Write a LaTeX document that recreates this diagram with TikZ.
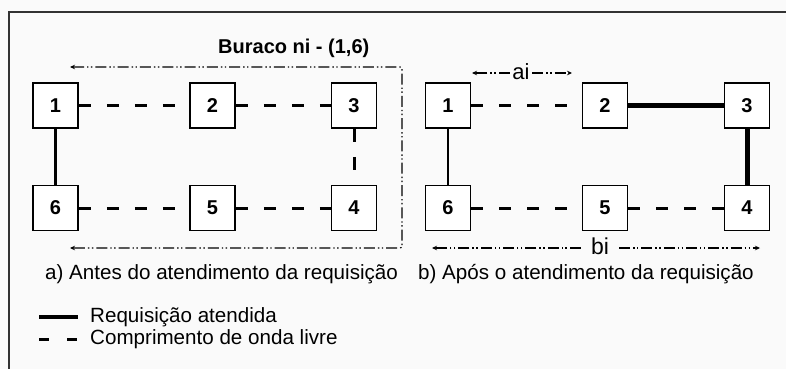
\documentclass[tikz,border=0pt]{standalone}
\usepackage{fontspec}
\setmainfont{Liberation Sans}
\usetikzlibrary{arrows.meta}
\definecolor{paper}{HTML}{FAFAFA}
\definecolor{framegray}{HTML}{333333}
\begin{document}
\begin{tikzpicture}[x=1pt,y=-1pt,
  station/.style={draw=black, line width=1.6pt, fill=white, minimum size=45pt,
    inner sep=0pt, font=\fontsize{20}{22}\selectfont\bfseries},
  freelink/.style={line width=3pt, dash pattern=on 12pt off 16pt},
  vfreelink/.style={line width=3pt, dash pattern=on 13pt off 15pt},
  usedlink/.style={line width=5pt},
  ringlink/.style={line width=2.4pt},
  spanline/.style={line width=1.2pt,
    dash pattern=on 11pt off 3pt on 1.4pt off 2.5pt on 1.4pt off 3pt},
  spantip/.style={-{Stealth[length=5pt,width=4.5pt]}},
  caption/.style={font=\fontsize{20.6}{23}\selectfont, anchor=west, inner sep=0pt},
  measure/.style={inner sep=0pt}
]
% canvas
\fill[paper] (0,0) rectangle (786,369);
\useasboundingbox (0,0) rectangle (786,369);
\draw[framegray, line width=1.8pt] (786,12) -- (9,12) -- (9,369);

% ---- a) ring before the request ----
\node[station] (a1) at (55.5,105.5) {1};
\node[station] (a2) at (212.5,105.5) {2};
\node[station] (a3) at (354,105.5) {3};
\node[station] (a4) at (354,208) {4};
\node[station] (a5) at (212.5,208) {5};
\node[station] (a6) at (55.5,208) {6};

\draw[freelink] (a1) -- (a2);
\draw[freelink] (a2) -- (a3);
\draw[vfreelink] (a3) -- (a4);
\draw[freelink] (a6) -- (a5);
\draw[freelink] (a5) -- (a4);
\draw[ringlink] (a1) -- (a6);

% hole ni between nodes 1 and 6
\node[font=\fontsize{20}{22}\selectfont\bfseries, anchor=west, inner sep=0pt]
  (title) at (218,48) {Buraco ni - (1,6)};
\coordinate (hs) at (70,67);
\coordinate (hc1) at (402,67);
\coordinate (hc2) at (402,248);
\coordinate (he) at (70,248);
\draw[spanline, {Stealth[length=5pt,width=4.5pt]}-{Stealth[length=5pt,width=4.5pt]}, rounded corners=2pt]
  (hs) -- (hc1) -- (hc2) -- (he);

% ---- b) ring after the request ----
\node[station] (b1) at (448,105.5) {1};
\node[station] (b2) at (605,105.5) {2};
\node[station] (b3) at (747,105.5) {3};
\node[station] (b4) at (747,208) {4};
\node[station] (b5) at (605,208) {5};
\node[station] (b6) at (448,208) {6};

\draw[freelink] (b1) -- (b2);
\draw[usedlink] (b2) -- (b3);
\draw[usedlink] (b3) -- (b4);
\draw[freelink] (b6) -- (b5);
\draw[freelink] (b5) -- (b4);
\draw[ringlink] (b1) -- (b6);

% spans ai and bi
\node[measure, font=\fontsize{22}{24}\selectfont, inner xsep=2.5pt] (ai) at (521,72) {ai};
\coordinate (aiL) at (472,73);
\coordinate (aiR) at (572,73);
\draw[spanline, spantip] (ai.west |- aiL) -- (aiL);
\draw[spanline, spantip] (ai.east |- aiR) -- (aiR);

\node[measure, font=\fontsize{23}{25}\selectfont, inner xsep=10pt] (bi) at (600,246) {bi};
\coordinate (biL) at (432,248);
\coordinate (biR) at (760,248);
\draw[spanline, spantip] (bi.west |- biL) -- (biL);
\draw[spanline, spantip] (bi.east |- biR) -- (biR);

% captions
\node[caption] (capa) at (45,274) {a) Antes do atendimento da requisição};
\node[caption] (capb) at (418,274) {b) Após o atendimento da requisição};

% legend
\coordinate (lu1) at (39,317);
\coordinate (lu2) at (78,317);
\coordinate (lf1) at (39,339);
\coordinate (lf2) at (78,339);
\draw[line width=4.5pt] (lu1) -- (lu2);
\draw[line width=3pt, dash pattern=on 10pt off 18pt] (lf1) -- (lf2);
\node[caption] (legu) at (90,317) {Requisição atendida};
\node[caption] (legf) at (90,339) {Comprimento de onda livre};
\end{tikzpicture}
\end{document}
